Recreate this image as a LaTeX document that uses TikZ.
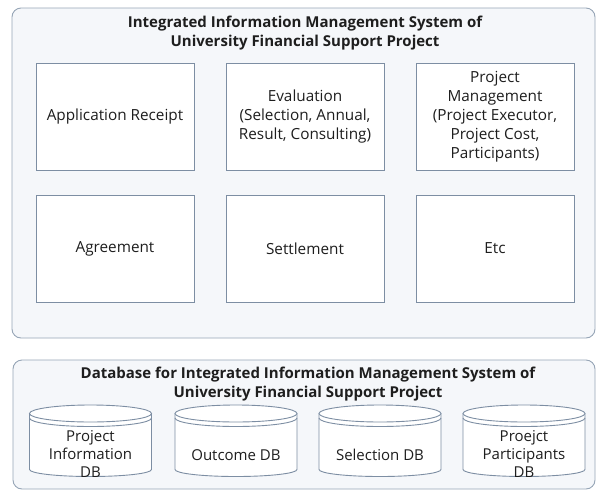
\documentclass[tikz,border=0pt]{standalone}
\usepackage{fontspec}
\setmainfont{Open Sans}
\definecolor{outerc}{RGB}{150,165,182}
\definecolor{outerfill}{RGB}{245,247,250}
\definecolor{boxc}{RGB}{125,142,163}
\definecolor{txt}{RGB}{30,30,30}
\begin{document}
\begin{tikzpicture}[x=1pt,y=-1pt,
  outer/.style={draw=outerc, fill=outerfill, rounded corners=9pt, line width=0.9pt},
  modbox/.style={draw=boxc, fill=white, line width=1pt, minimum width=158pt, minimum height=107pt,
    align=center, text=txt, font=\fontsize{15.3}{19}\selectfont, inner sep=0pt},
  ttl/.style={font=\bfseries\fontsize{15}{19.5}\selectfont, align=center, text=txt},
  cyltext/.style={align=center, text=txt, font=\fontsize{15}{18}\selectfont, inner sep=0pt},
  dbcyl/.pic={
    \draw[boxc, line width=0.9pt, fill=white] (-61,0) -- (-61,56)
      arc[start angle=180, end angle=360, x radius=61pt, y radius=7pt] -- (61,0);
    \draw[boxc, line width=0.9pt, fill=white] (0,0) ellipse[x radius=61pt, y radius=8.5pt];
    \draw[boxc, line width=0.9pt] (-61,4.5) arc[start angle=180, end angle=360, x radius=61pt, y radius=8.5pt];
  }]
\useasboundingbox (0,0) rectangle (598,491);
% top system
\draw[outer] (12,8) rectangle (595,338);
\node[ttl] (t1) at (305,33) {Integrated Information Management System of\\University Financial Support Project};
\node[modbox] (m1) at (115,116.5) {Application Receipt};
\node[modbox] (m2) at (305,116.5) {Evaluation\\(Selection, Annual,\\Result, Consulting)};
\node[modbox] (m3) at (495,116.5) {Project\\Management\\(Project Executor,\\Project Cost,\\Participants)};
\node[modbox] (m4) at (115,248.5) {Agreement};
\node[modbox] (m5) at (305,248.5) {Settlement};
\node[modbox] (m6) at (495,248.5) {Etc};
% database
\draw[outer] (13,360) rectangle (595,489);
\node[ttl] (t2) at (308,384) {Database for Integrated Information Management System of\\University Financial Support Project};
\pic at (90.5,413.5) {dbcyl};
\pic at (236,413.5) {dbcyl};
\pic at (380,413.5) {dbcyl};
\pic at (524,413.5) {dbcyl};
\node[cyltext] (d1) at (90.5,454) {Project\\Information\\DB};
\node[cyltext] (d2) at (236,455) {Outcome DB};
\node[cyltext] (d3) at (380,455) {Selection DB};
\node[cyltext] (d4) at (524,454) {Proejct\\Participants\\DB};
\end{tikzpicture}
\end{document}
